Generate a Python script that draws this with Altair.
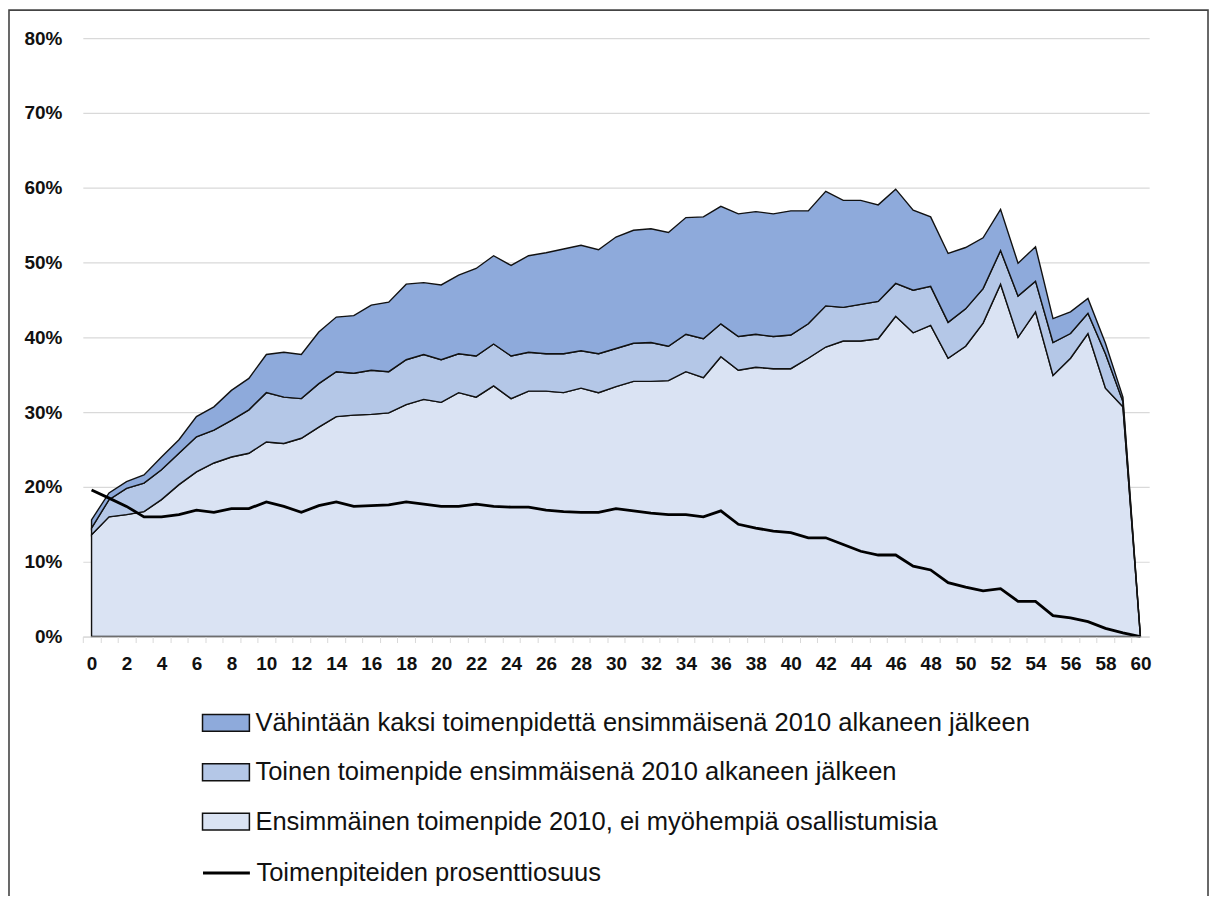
import altair as alt
import pandas as pd

# --- data (percent) ---
months = list(range(61))

first_only = [13.6, 16.0, 16.3, 16.7, 18.3, 20.3, 22.0, 23.2, 24.0, 24.5,
              26.0, 25.8, 26.5, 28.0, 29.4, 29.6, 29.7, 29.9, 31.0, 31.7,
              31.3, 32.6, 32.0, 33.5, 31.8, 32.8, 32.8, 32.6, 33.2, 32.6,
              33.4, 34.1, 34.1, 34.2, 35.4, 34.6, 37.4, 35.6, 36.0, 35.8,
              35.8, 37.2, 38.7, 39.5, 39.5, 39.8, 42.8, 40.6, 41.6, 37.2,
              38.8, 41.9, 47.1, 40.0, 43.4, 34.9, 37.2, 40.5, 33.2, 30.7, 0.0]

second_after = [0.9, 2.3, 3.5, 3.8, 4.0, 4.2, 4.7, 4.4, 4.9, 5.8,
                6.6, 6.2, 5.3, 5.8, 6.0, 5.6, 5.9, 5.5, 6.0, 6.0,
                5.7, 5.2, 5.5, 5.6, 5.7, 5.2, 5.0, 5.2, 5.0, 5.2,
                5.1, 5.1, 5.2, 4.6, 5.0, 5.2, 4.4, 4.5, 4.4, 4.3,
                4.5, 4.6, 5.5, 4.5, 4.9, 5.0, 4.4, 5.7, 5.2, 4.8,
                5.0, 4.6, 4.5, 5.5, 4.1, 4.4, 3.3, 2.7, 4.6, 0.7, 0.0]

two_plus = [1.1, 0.9, 0.9, 1.1, 1.7, 1.8, 2.7, 3.1, 4.0, 4.2,
            5.1, 6.0, 5.9, 6.9, 7.3, 7.7, 8.7, 9.3, 10.1, 9.6,
            10.0, 10.5, 11.7, 11.8, 12.1, 12.9, 13.5, 14.0, 14.1, 13.9,
            14.9, 15.1, 15.2, 15.2, 15.6, 16.3, 15.7, 16.4, 16.4, 16.4,
            16.6, 15.1, 15.3, 14.3, 13.9, 12.9, 12.6, 10.7, 9.3, 9.2,
            8.2, 6.8, 5.5, 4.4, 4.6, 3.2, 2.9, 2.0, 1.4, 0.6, 0.0]

share = [19.6, 18.5, 17.4, 16.0, 16.0, 16.3, 16.9, 16.6, 17.1, 17.1,
         18.0, 17.4, 16.6, 17.5, 18.0, 17.4, 17.5, 17.6, 18.0, 17.7,
         17.4, 17.4, 17.7, 17.4, 17.3, 17.3, 16.9, 16.7, 16.6, 16.6,
         17.1, 16.8, 16.5, 16.3, 16.3, 16.0, 16.8, 15.0, 14.5, 14.1,
         13.9, 13.2, 13.2, 12.3, 11.4, 10.9, 10.9, 9.4, 8.9, 7.2,
         6.6, 6.1, 6.4, 4.7, 4.7, 2.8, 2.5, 2.0, 1.1, 0.5, 0.0]

series_names = [
    "Vähintään kaksi toimenpidettä ensimmäisenä 2010 alkaneen jälkeen",
    "Toinen toimenpide ensimmäisenä 2010 alkaneen jälkeen",
    "Ensimmäinen toimenpide 2010, ei myöhempiä osallistumisia",
]
line_name = "Toimenpiteiden prosenttiosuus"
series_colors = ["#8eaadb", "#b4c7e7", "#dae3f3"]
y_ticks = [0, 0.1, 0.2, 0.3, 0.4, 0.5, 0.6, 0.7, 0.8]
x_tick_values = list(range(0, 62))

rows = []
for name, vals, order in [(series_names[2], first_only, 0),
                          (series_names[1], second_after, 1),
                          (series_names[0], two_plus, 2)]:
    for m, v in zip(months, vals):
        rows.append({"kk": m, "sarja": name, "osuus": v / 100, "jarj": order})
area_df = pd.DataFrame(rows)
line_df = pd.DataFrame({"kk": months, "osuus": [v / 100 for v in share],
                        "sarja": [line_name] * len(months)})

W, H = 1069, 600
half = W / 61 / 2
FONT = "Liberation Sans"
LEG_SIZE = 25.6

x_axis = alt.Axis(
    title=None, values=x_tick_values,
    labelExpr="datum.value % 2 == 0 && datum.value <= 60 ? datum.label : ''",
    tickOffset=-half, labelOffset=half, labelOverlap=False,
    grid=False, domainColor="#d9d9d9", tickColor="#d9d9d9",
    tickSize=6, labelPadding=12, labelFont=FONT, labelFontSize=19,
    labelFontWeight="bold", labelColor="#111111", zindex=1,
    labelFlush=False, labelBound=False,
)
y_axis = alt.Axis(
    title=None, values=y_ticks, format=".0%", domain=False, ticks=False,
    gridColor="#d9d9d9", gridWidth=1.2, labelPadding=21, labelFont=FONT,
    labelFontSize=19, labelFontWeight="bold", labelColor="#111111",
)
x_scale = alt.Scale(domain=[-0.5, 60.5], nice=False, zero=False)
y_scale = alt.Scale(domain=[0, 0.8], nice=False)

rect_path = "M-1,-0.36H1V0.36H-1Z"

areas = alt.Chart(area_df).mark_area(
    stroke="#111111", strokeWidth=1.4, opacity=1
).encode(
    x=alt.X("kk:Q", scale=x_scale, axis=x_axis),
    y=alt.Y("osuus:Q", stack="zero", scale=y_scale, axis=y_axis),
    color=alt.Color(
        "sarja:N",
        scale=alt.Scale(domain=series_names, range=series_colors),
        legend=alt.Legend(
            title=None, orient="none", legendX=119, legendY=662,
            direction="vertical", symbolType=rect_path, symbolSize=2209,
            symbolStrokeColor="#111111", symbolStrokeWidth=1.5,
            symbolOpacity=1, labelFont=FONT, labelFontSize=LEG_SIZE,
            labelColor="#111111", labelOffset=5, labelLimit=1200,
            rowPadding=10.5, padding=0,
        ),
    ),
    order=alt.Order("jarj:Q"),
)

line = alt.Chart(line_df).mark_line(strokeWidth=2.8).encode(
    x=alt.X("kk:Q", scale=x_scale, axis=x_axis),
    y=alt.Y("osuus:Q", stack=None, scale=y_scale, axis=y_axis),
    stroke=alt.Stroke(
        "sarja:N",
        scale=alt.Scale(domain=[line_name], range=["#000000"]),
        legend=alt.Legend(
            title=None, orient="none", legendX=119, legendY=812,
            symbolType="stroke", symbolSize=2209, symbolStrokeWidth=3,
            labelFont=FONT, labelFontSize=LEG_SIZE, labelColor="#111111",
            labelOffset=5, labelLimit=1200, padding=0,
        ),
    ),
)

frame = alt.Chart(pd.DataFrame({"k": [0]})).mark_rect(
    fillOpacity=0, stroke="#444444", strokeWidth=1.6
).encode(
    x=alt.value(-74), x2=alt.value(1128), y=alt.value(-28), y2=alt.value(900)
)

chart = alt.layer(areas, line, frame).properties(
    width=W, height=H,
    autosize=alt.AutoSizeParams(type="none"),
    padding={"left": 75, "top": 29, "right": 61, "bottom": 259},
).configure_view(stroke=None).configure_axisX(labelOverlap=False)

chart.save("out.html", embed_options={"renderer": "svg", "actions": False})
